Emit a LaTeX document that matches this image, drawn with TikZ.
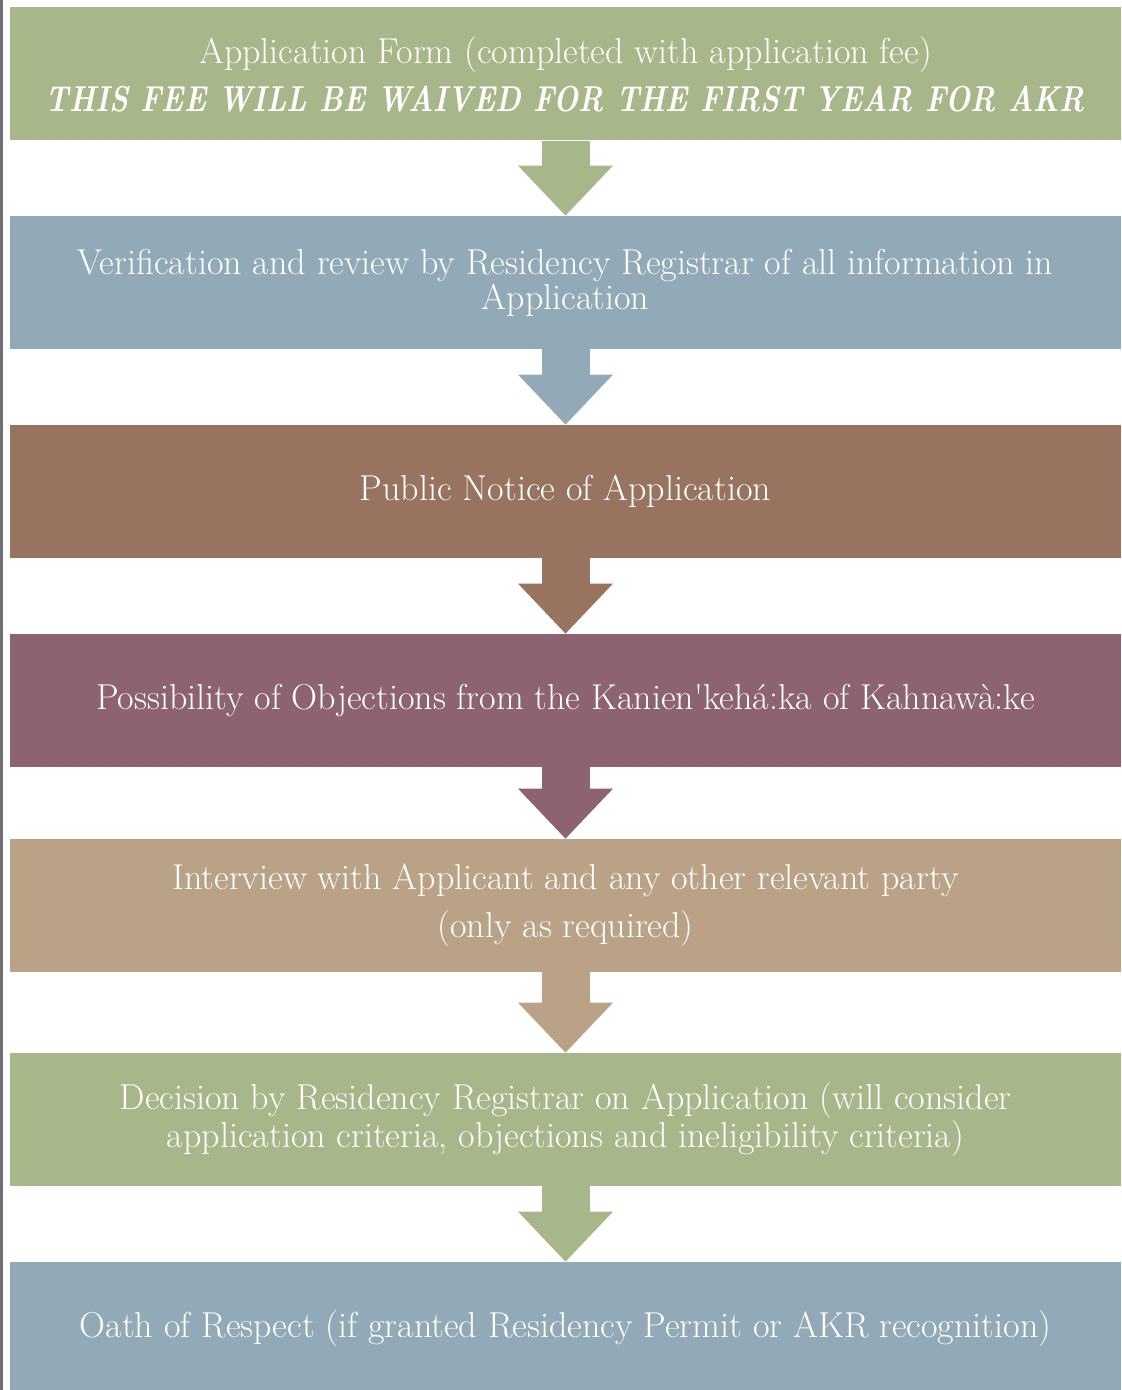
\documentclass[tikz,border=0pt]{standalone}
\usetikzlibrary{arrows.meta}
\definecolor{sage}{RGB}{167,183,138}
\definecolor{slate}{RGB}{146,169,184}
\definecolor{clay}{RGB}{152,115,95}
\definecolor{plum}{RGB}{141,98,113}
\definecolor{sand}{RGB}{186,162,134}
\definecolor{edgegray}{RGB}{112,112,116}
\begin{document}
\begin{tikzpicture}[x=0.5pt, y=-0.5pt,
    stage/.style={fill=#1, text=white, minimum width=555.5pt, minimum height=66.5pt,
        inner sep=0pt, align=center, font=\fontsize{18}{17.5}\selectfont},
    flow/.style={draw=#1, line width=24pt,
        -{Triangle[width=47.5pt, length=25pt, line width=0pt]}}]
    \clip (0, 0) rectangle (1122, 1390); % page
    \fill[edgegray] (0, 0) rectangle (2.5, 1390); % left rule
    \node[stage=sage] (form) at (565.5, 74) {Application Form (completed with application fee)\\[6.5pt]
        \scalebox{0.815}[1]{\bfseries\itshape THIS FEE WILL BE WAIVED FOR THE FIRST YEAR FOR AKR}};
    \node[stage=slate] (verify) at (565.5, 282.5) {Verification and review by Residency Registrar of all information in\\
        Application};
    \node[stage=clay] (notice) at (565.5, 491.5) {Public Notice of Application};
    \node[stage=plum] (object) at (565.5, 700.5) {Possibility of Objections from the Kanien\textquotesingle keh\'a:ka of Kahnaw\`a:ke};
    \node[stage=sand] (interview) at (565.5, 905.5) {Interview with Applicant and any other relevant party\\[6.5pt]
        (only as required)};
    \node[stage=sage] (decide) at (565.5, 1119.5) {Decision by Residency Registrar on Application (will consider\\
        application criteria, objections and ineligibility criteria)};
    \node[stage=slate] (oath) at (565.5, 1328.5) {Oath of Respect (if granted Residency Permit or AKR recognition)};
    \foreach \a/\b/\c in {form/verify/sage, verify/notice/slate, notice/object/clay,
            object/interview/plum, interview/decide/sand, decide/oath/sage} {
            \draw[flow=\c] (\a.south) -- (\b.north); % down arrow
        }
\end{tikzpicture}
\end{document}
